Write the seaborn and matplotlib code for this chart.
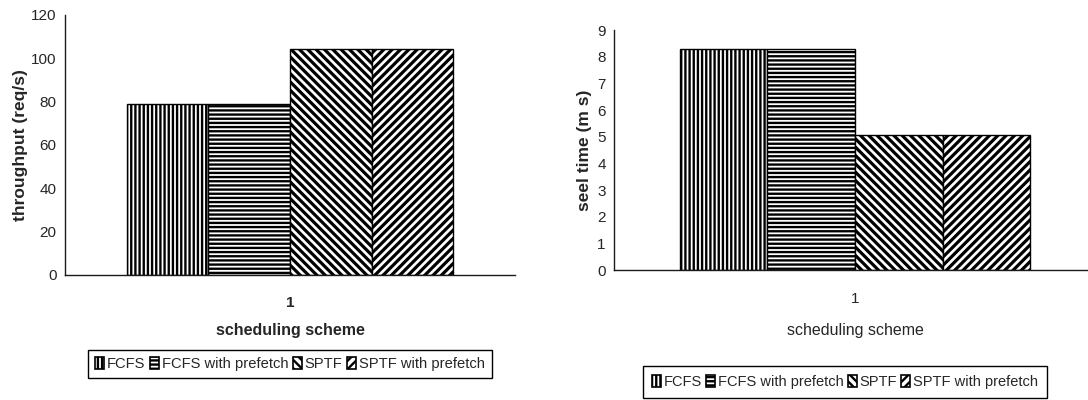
import matplotlib
matplotlib.use("Agg")
import matplotlib.pyplot as plt
from matplotlib.patches import Patch
import seaborn as sns
import pandas as pd

# Data
schemes = ["FCFS", "FCFS with prefetch", "SPTF", "SPTF with prefetch"]
run_label = ["1"]
throughput = [78.8, 78.8, 104.5, 104.5]   # req/s
seek_time = [8.28, 8.28, 5.05, 5.05]       # ms
hatches = ["||||", "----", "\\\\\\\\", "////"]

sns.set_style("white")
plt.rcParams["font.family"] = ["Liberation Sans", "DejaVu Sans"]
plt.rcParams["hatch.linewidth"] = 1.7
plt.rcParams["hatch.color"] = "black"

REG = ["Liberation Sans", "DejaVu Sans"]

W, H = 1088, 400
fig = plt.figure(figsize=(W / 100, H / 100), dpi=100)


def px_axes(x0, x1, ytop, ybot):
    return fig.add_axes([x0 / W, (H - ybot) / H, (x1 - x0) / W, (ybot - ytop) / H])


def draw_panel(ax, values, ylim, yticks, ylabel, xlabel_weight, xtick_weight,
               width, xtick_pad, xlabel_y, ylabel_x):
    df = pd.DataFrame({"run": run_label * len(schemes),
                       "scheme": schemes, "value": values})
    sns.barplot(data=df, x="run", y="value", hue="scheme", hue_order=schemes,
                palette={s: "white" for s in schemes}, edgecolor="black",
                linewidth=1.0, width=width, gap=0, legend=False, ax=ax,
                errorbar=None)
    for cont, h in zip(ax.containers, hatches):
        for bar in cont:
            bar.set_hatch(h)
            if hasattr(bar, "set_hatch_linewidth"):
                bar.set_hatch_linewidth(1.7 if h in ("||||", "----") else 2.3)
    ax.set_xlim(-0.5, 0.5)
    ax.set_ylim(*ylim)
    ax.set_yticks(yticks)
    for s in ("top", "right"):
        ax.spines[s].set_visible(False)
    for s in ("left", "bottom"):
        ax.spines[s].set_color("#1a1a1a")
        ax.spines[s].set_linewidth(1.0)
    ax.tick_params(axis="y", direction="out", length=4, width=1,
                   color="#1a1a1a", pad=2, labelsize=11)
    ax.tick_params(axis="x", which="major", length=0, pad=xtick_pad, labelsize=11)
    ax.set_xticks([-0.5, 0.5], minor=True)
    ax.tick_params(axis="x", which="minor", direction="out", length=5, width=1,
                   color="#1a1a1a")
    for t in ax.get_xticklabels():
        t.set_fontweight(xtick_weight)
    ax.set_ylabel(ylabel, fontsize=12.5, fontweight="bold")
    ax.yaxis.set_label_coords(ylabel_x, 0.5)
    ax.set_xlabel("scheduling scheme", fontsize=11.5, fontweight=xlabel_weight)
    ax.xaxis.set_label_coords(0.5, xlabel_y)
    ax.xaxis.label.set_va("center")


# Left panel: throughput
ax1 = px_axes(65, 515, 15, 275)
draw_panel(ax1, throughput, (0, 120), range(0, 121, 20), "throughput (req/s)",
           "bold", "bold", 0.725, 15.4, (275 - 330) / 260, (28 - 65) / 450)

# Right panel: seek time
ax2 = px_axes(614, 1096, 30, 270)
draw_panel(ax2, seek_time, (0, 9), range(0, 10), "seel time (m s)",
           "normal", "normal", 0.728, 15.5, (270 - 331) / 240, (592 - 614) / 482)

handles = [Patch(facecolor="white", edgecolor="black", hatch=h, linewidth=1.2)
           for h in hatches]

leg_kw = dict(loc="center", ncol=4, frameon=True, fancybox=False,
              edgecolor="black", framealpha=1, handlelength=0.6,
              handleheight=0.85, handletextpad=0.2, columnspacing=0.3,
              borderaxespad=0)

leg1 = fig.legend(handles, schemes, bbox_to_anchor=(290 / W, (H - 364) / H),
                  prop={"size": 10.6}, borderpad=0.5, **leg_kw)
leg1.get_frame().set_linewidth(1.0)

leg2 = fig.legend(handles, schemes, bbox_to_anchor=(845 / W, (H - 382) / H),
                  prop={"size": 10.5}, borderpad=0.6, **leg_kw)
leg2.get_frame().set_linewidth(1.0)

fig.savefig("out.png", dpi=100, facecolor="white")
